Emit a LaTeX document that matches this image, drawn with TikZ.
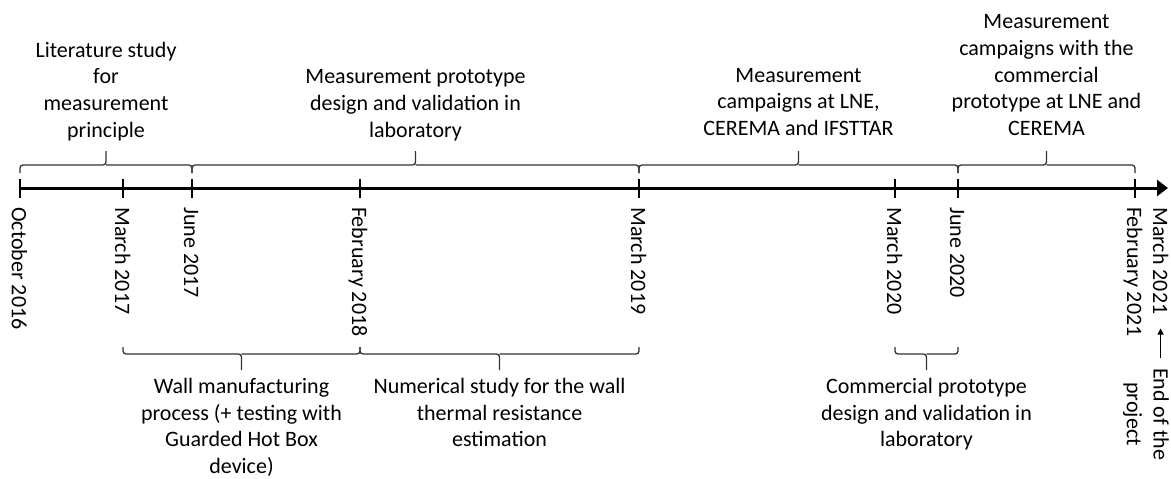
\documentclass[tikz,border=0pt]{standalone}
\usepackage{fontspec}
\setmainfont{Carlito}
\usetikzlibrary{positioning,arrows.meta}

\newcommand\tlfont{\fontsize{22}{26.7}\selectfont}

\begin{document}
\begin{tikzpicture}[x=1pt,y=-1pt,
    axisline/.style={line width=3pt,-{Triangle[length=11pt,width=16pt]}},
    datetick/.style={line width=2pt},
    brace/.style={line width=1.3pt,draw=black!80,rounded corners=3pt},
    datelabel/.style={rotate=-90,anchor=base west,inner sep=0pt,font=\tlfont},
    phase/.style={align=center,inner sep=0pt,font=\tlfont},
    endarrow/.style={line width=1.3pt,-{Triangle[length=6pt,width=6pt]}}]
  \useasboundingbox (0,0) rectangle (1171,479);

  % time axis
  \coordinate (oct16) at (20,188);
  \coordinate (mar17) at (123,188);
  \coordinate (jun17) at (192,188);
  \coordinate (feb18) at (360,188);
  \coordinate (mar19) at (639,188);
  \coordinate (mar20) at (895,188);
  \coordinate (jun20) at (958,188);
  \coordinate (feb21) at (1135,188);
  \coordinate (axisend) at (1168,188);
  \draw[axisline] (oct16) -- (axisend);
  \foreach \t in {oct16,mar17,jun17,feb18,mar19,mar20,jun20,feb21}
    \draw[datetick] ([yshift=9pt]\t) -- ([yshift=-10pt]\t);

  % dates
  \node[datelabel] (oct16-l) at ([shift={(-8pt,-19pt)}]oct16) {October 2016};
  \node[datelabel] (mar17-l) at ([shift={(-8pt,-19pt)}]mar17) {March 2017};
  \node[datelabel] (jun17-l) at ([shift={(-8pt,-19pt)}]jun17) {June 2017};
  \node[datelabel] (feb18-l) at ([shift={(-8pt,-19pt)}]feb18) {February 2018};
  \node[datelabel] (mar19-l) at ([shift={(-8pt,-19pt)}]mar19) {March 2019};
  \node[datelabel] (mar20-l) at ([shift={(-8pt,-19pt)}]mar20) {March 2020};
  \node[datelabel] (jun20-l) at ([shift={(-8pt,-19pt)}]jun20) {June 2020};
  \node[datelabel] (feb21-l) at ([shift={(-8pt,-19pt)}]feb21) {February 2021};
  \node[datelabel] (mar21-l) at ([shift={(-15pt,-19pt)}]axisend) {March 2021};

  % phases above the axis
  \draw[brace] (20,173) |- (106,165) -- (106,151) coordinate (litb) (192,173) |- (106,165);
  \draw[brace] (192,173) |- (415.5,165) -- (415.5,151) coordinate (protob) (639,173) |- (415.5,165);
  \draw[brace] (639,173) |- (798.5,165) -- (798.5,151) coordinate (campb) (958,173) |- (798.5,165);
  \draw[brace] (958,173) |- (1046.5,165) -- (1046.5,151) coordinate (commcampb) (1135,173) |- (1046.5,165);
  \node[phase,above=10pt of litb] (lit) {Literature study\\for\\measurement\\principle};
  \node[phase,above=10pt of protob] (proto) {Measurement prototype\\design and validation in\\laboratory};
  \node[phase,above=15pt of campb] (camp) {Measurement\\campaigns at LNE,\\CEREMA and IFSTTAR};
  \node[phase,above=15pt of commcampb] (commcamp) {Measurement\\campaigns with the\\commercial\\prototype at LNE and\\CEREMA};

  % phases below the axis
  \draw[brace] (123,347) |- (241.5,354) -- (241.5,370) coordinate (wallb) (360,347) |- (241.5,354);
  \draw[brace] (360,347) |- (499.5,354) -- (499.5,370) coordinate (numb) (639,347) |- (499.5,354);
  \draw[brace] (895,347) |- (926.5,354) -- (926.5,370) coordinate (commb) (958,347) |- (926.5,354);
  \node[phase,below=8pt of wallb] (wall) {Wall manufacturing\\process (+ testing with\\Guarded Hot Box\\device)};
  \node[phase,below=8pt of numb] (num) {Numerical study for the wall\\thermal resistance\\estimation};
  \node[phase,below=8pt of commb] (comm) {Commercial prototype\\design and validation in\\laboratory};

  % end of the project
  \node[phase,rotate=-90] (eop) at (1146,414) {End of the\\project};
  \coordinate (eoptop) at ([yshift=10pt]eop.west);
  \draw[endarrow] (eoptop -| mar21-l.east) -- ([yshift=-14pt]mar21-l.east);
\end{tikzpicture}
\end{document}
